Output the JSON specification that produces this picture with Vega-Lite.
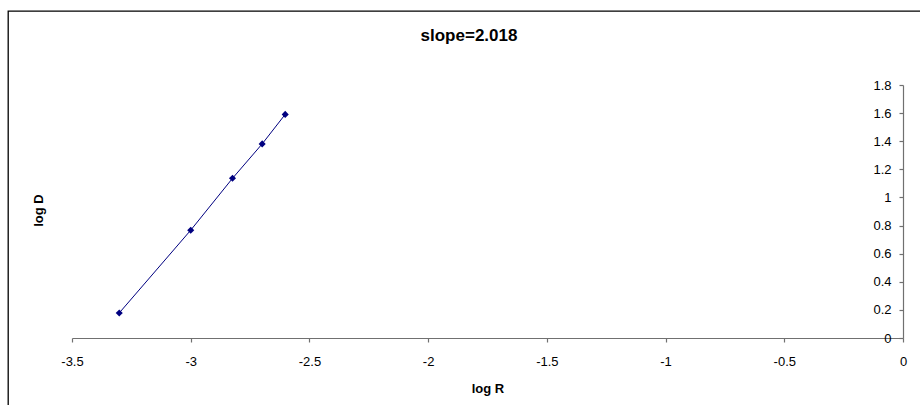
{
  "$schema": "https://vega.github.io/schema/vega-lite/v6.json",
  "autosize": {"type": "none"},
  "padding": {"left": 8, "top": 11, "right": 0, "bottom": 0},
  "width": 912,
  "height": 394,
  "background": "white",
  "config": {
    "font": "Liberation Sans",
    "view": {"stroke": "#000000", "strokeWidth": 1.3, "strokeDash": [912, 1306, 394, 0], "fill": "white"},
    "axis": {"grid": false, "domainColor": "#707070", "tickColor": "#707070", "domainWidth": 1.2, "tickWidth": 1.2, "labelColor": "#000000", "titleColor": "#000000", "labelFont": "Liberation Sans", "titleFont": "Liberation Sans"}
  },
  "title": {"text": "slope=2.018", "font": "Liberation Sans", "fontSize": 17, "fontWeight": "bold", "color": "#000000", "anchor": "middle", "frame": "group", "baseline": "middle", "offset": -42, "dx": 5},
  "data": {"values": [
    {"logR": -3.301, "logD": 0.178},
    {"logR": -3.0, "logD": 0.767},
    {"logR": -2.824, "logD": 1.136},
    {"logR": -2.699, "logD": 1.381},
    {"logR": -2.602, "logD": 1.591}
  ]},
  "encoding": {
    "x": {"field": "logR", "type": "quantitative",
      "scale": {"domain": [-3.5, 0], "range": [64, 895], "nice": false, "zero": false},
      "axis": {"orient": "bottom", "offset": -67, "values": [-3.5, -3, -2.5, -2, -1.5, -1, -0.5, 0], "labelExpr": "'' + datum.value", "labelFontSize": 13, "labelPadding": 13, "tickSize": 4, "title": "log R", "titleFontSize": 13, "titleFontWeight": "bold", "titlePadding": 14, "labelFlush": false, "labelOverlap": false}},
    "y": {"field": "logD", "type": "quantitative",
      "scale": {"domain": [0, 1.8], "range": [327, 74], "nice": false, "zero": false},
      "axis": {"orient": "left", "offset": -895, "values": [0, 0.2, 0.4, 0.6, 0.8, 1, 1.2, 1.4, 1.6, 1.8], "labelExpr": "'' + datum.value", "labelFontSize": 13, "labelPadding": 8, "tickSize": 4, "labelBaseline": "middle", "title": "log D", "titleFontSize": 13, "titleFontWeight": "bold", "titleX": -865, "titleY": 199, "titleAngle": -90, "titleAlign": "center", "titleBaseline": "middle", "labelFlush": false, "labelOverlap": false}}
  },
  "layer": [
    {"mark": {"type": "line", "color": "#000080", "strokeWidth": 1}},
    {"mark": {"type": "point", "shape": "diamond", "filled": true, "color": "#000080", "size": 50, "opacity": 1}}
  ]
}
